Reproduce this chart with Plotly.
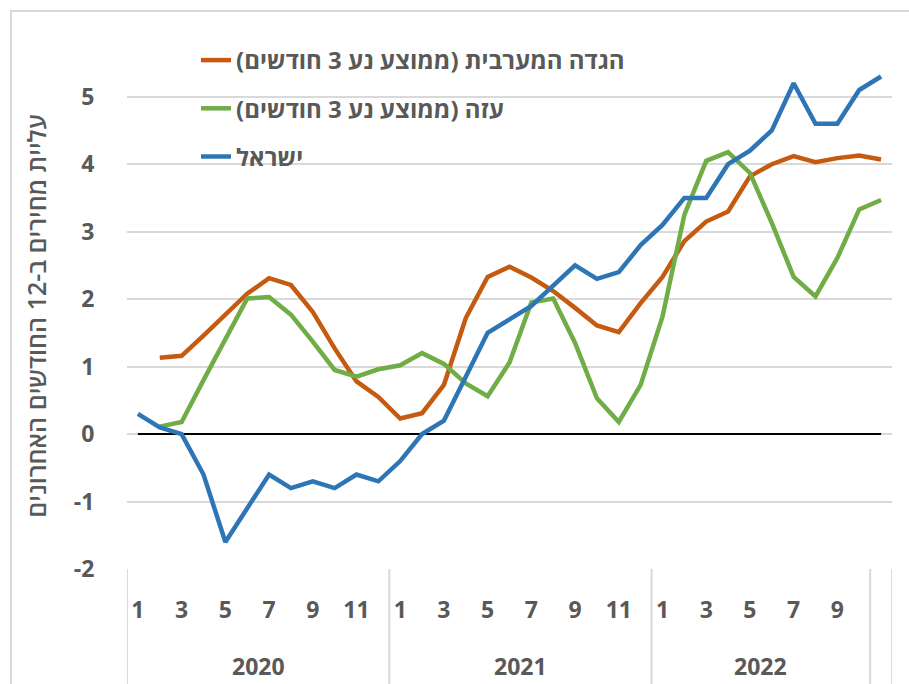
import plotly.graph_objects as go

# ---------------- data ----------------
year_names = ["2020", "2021", "2022"]
months_per_year = [12, 12, 11]
categories = [f"{y}-{m:02d}" for y, n in zip(year_names, months_per_year) for m in range(1, n + 1)]

# tick labels shown on the month row (odd months)
tick_categories = ["2020-01", "2020-03", "2020-05", "2020-07", "2020-09", "2020-11",
                   "2021-01", "2021-03", "2021-05", "2021-07", "2021-09", "2021-11",
                   "2022-01", "2022-03", "2022-05", "2022-07", "2022-09"]
tick_labels = ["1", "3", "5", "7", "9", "11",
               "1", "3", "5", "7", "9", "11",
               "1", "3", "5", "7", "9"]

# year groups: (label, first category, last category)
year_groups = [("2020", "2020-01", "2020-12"),
               ("2021", "2021-01", "2021-12"),
               ("2022", "2022-01", "2022-10")]
# group boundaries (between categories)
group_edges = [("2020-01", "left"), ("2020-12", "right"), ("2021-12", "right"),
               ("2022-10", "right"), ("2022-11", "right")]

west_bank = [None, 1.13, 1.16, 1.46, 1.76, 2.08, 2.31, 2.21, 1.81, 1.27, 0.78, 0.55,
             0.23, 0.31, 0.73, 1.72, 2.33, 2.48, 2.32, 2.12, 1.87, 1.61, 1.51, 1.94,
             2.33, 2.86, 3.15, 3.30, 3.82, 4.00, 4.12, 4.03, 4.09, 4.13, 4.07]
gaza = [None, 0.11, 0.18, 0.80, 1.42, 2.01, 2.03, 1.77, 1.37, 0.95, 0.85, 0.96,
        1.02, 1.20, 1.04, 0.75, 0.56, 1.06, 1.95, 2.01, 1.35, 0.53, 0.18, 0.73,
        1.74, 3.25, 4.05, 4.18, 3.87, 3.13, 2.33, 2.04, 2.61, 3.33, 3.47]
israel = [0.3, 0.1, 0.0, -0.6, -1.6, -1.1, -0.6, -0.8, -0.7, -0.8, -0.6, -0.7,
          -0.4, 0.0, 0.2, 0.85, 1.5, 1.7, 1.9, 2.2, 2.5, 2.3, 2.4, 2.8,
          3.1, 3.5, 3.5, 4.0, 4.2, 4.5, 5.2, 4.6, 4.6, 5.1, 5.3]

RLM = "\u200f"
series_names = [RLM + "הגדה המערבית (ממוצע נע 3 חודשים)" + RLM,
                RLM + "עזה (ממוצע נע 3 חודשים)" + RLM,
                RLM + "ישראל" + RLM]
y_title = RLM + "עליית מחירים ב-12 החודשים האחרונים" + RLM
y_ticks = [-2, -1, 0, 1, 2, 3, 4, 5]
y_tick_labels = ["-2", "-1", "0", "1", "2", "3", "4", "5"]

# ---------------- style ----------------
colors = ["#C55A11", "#70AD47", "#2E75B6"]
TXT = "#595959"
GRID = "#D9D9D9"
FONT = "Open Sans, Noto Sans Hebrew, DejaVu Sans, sans-serif"
W, H = 909, 684
ML, MR, MT, MB = 127, 17, 63, 115
PW, PH = W - ML - MR, H - MT - MB


def px_x(px):
    return (px - ML) / PW


def px_y(py):
    return (H - MB - py) / PH


fig = go.Figure()

# zero reference line
fig.add_trace(go.Scatter(x=[categories[0], categories[-1]], y=[0, 0], mode="lines",
                         line=dict(color="black", width=2), showlegend=False,
                         hoverinfo="skip"))

for name, vals, col in zip(series_names, [west_bank, gaza, israel], colors):
    fig.add_trace(go.Scatter(x=categories, y=vals, mode="lines", name=name,
                             legendgroup=name,
                             line=dict(color=col, width=4.5), connectgaps=False))

shapes = []
idx = {c: i for i, c in enumerate(categories)}
for cat, side in group_edges:
    xv = idx[cat] + (0.5 if side == "right" else -0.5)
    shapes.append(dict(type="line", xref="x", yref="paper", x0=xv, x1=xv,
                       y0=0, y1=px_y(H + 5), line=dict(color=GRID, width=2), layer="below"))
# chart frame
shapes.append(dict(type="rect", xref="paper", yref="paper", x0=px_x(11), x1=px_x(W + 10),
                   y0=px_y(H + 10), y1=px_y(11), line=dict(color=GRID, width=2),
                   fillcolor="rgba(0,0,0,0)", layer="below"))

annotations = []
for label, c0, c1 in year_groups:
    annotations.append(dict(x=(idx[c0] + idx[c1]) / 2, xref="x", y=px_y(666), yref="paper",
                            text=label, showarrow=False, xanchor="center", yanchor="middle",
                            font=dict(family=FONT, size=23, color=TXT, weight="bold")))

fig.update_layout(
    width=W, height=H,
    margin=dict(l=ML, r=MR, t=MT, b=MB, pad=0),
    paper_bgcolor="white", plot_bgcolor="white",
    font=dict(family=FONT, color=TXT),
    showlegend=True,
    legend=dict(x=px_x(196), y=px_y(38), xanchor="left", yanchor="top",
                bgcolor="rgba(0,0,0,0)", borderwidth=0, traceorder="grouped",
                tracegroupgap=14,
                font=dict(family=FONT, size=24, color=TXT, weight="bold")),
    xaxis=dict(type="category", categoryorder="array", categoryarray=categories,
               range=[-0.5, len(categories) - 0.5],
               tickmode="array", tickvals=tick_categories, ticktext=tick_labels,
               ticks="outside", ticklen=20, tickcolor="rgba(0,0,0,0)",
               showgrid=False, zeroline=False, showline=False,
               tickfont=dict(family=FONT, size=23, color=TXT, weight="bold")),
    yaxis=dict(range=[-2, 5.5], tickmode="array", tickvals=y_ticks, ticktext=y_tick_labels,
               showgrid=True, gridcolor=GRID, gridwidth=2, zeroline=False, showline=False,
               ticks="outside", ticklen=27, tickcolor="rgba(0,0,0,0)",
               tickfont=dict(family=FONT, size=23, color=TXT, weight="bold"),
               title=dict(text=y_title, standoff=20,
                          font=dict(family=FONT, size=25, color=TXT, weight=600))),
    shapes=shapes, annotations=annotations,
)

fig.write_html("out.html", config={"displayModeBar": False},
               post_script="document.body.style.margin='0';document.body.style.overflow='hidden';")
